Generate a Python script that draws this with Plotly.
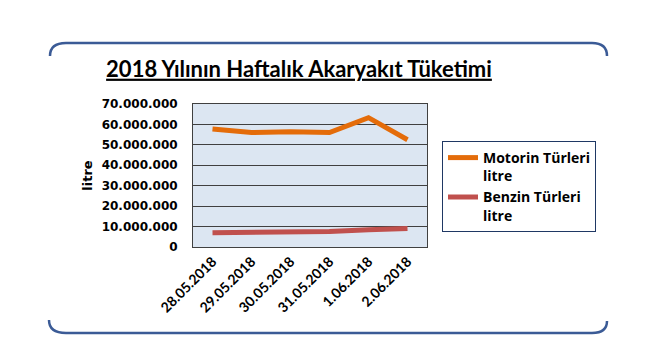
import plotly.graph_objects as go

dates = ["28.05.2018", "29.05.2018", "30.05.2018", "31.05.2018", "1.06.2018", "2.06.2018"]
motorin = [57800000, 56000000, 56400000, 56000000, 63300000, 52500000]
benzin = [7000000, 7000000, 7100000, 7600000, 8500000, 9000000]
series_names = ["Motorin Türleri<br>litre", "Benzin Türleri<br>litre"]
title_text = "2018 Yılının Haftalık Akaryakıt Tüketimi"

W, H = 650, 360
OFF = 8  # page offset of the figure in the browser
# plot area in reference pixel coordinates
RL, RR, RT, RB = 193, 427, 104, 247
L, R, T, B = RL - OFF, RR - OFF, RT - OFF, RB - OFF

def px(x):  # reference px -> paper
    return (x - RL) / (RR - RL)

def py(y):
    return (RB - y) / (RB - RT)

fig = go.Figure()
fig.add_trace(go.Scatter(x=dates, y=motorin, mode="lines", name=series_names[0],
                         line=dict(color="#E46C0A", width=5)))
fig.add_trace(go.Scatter(x=dates, y=benzin, mode="lines", name=series_names[1],
                         line=dict(color="#C0504D", width=5)))

frame_color = "#3B5B96"
top_path = (f"M {px(50)},{py(56)} Q {px(50)},{py(43)} {px(66)},{py(43)} "
            f"L {px(592)},{py(43)} Q {px(607)},{py(43)} {px(607)},{py(56)}")
bot_path = (f"M {px(49)},{py(320)} Q {px(49)},{py(333)} {px(66)},{py(333)} "
            f"L {px(592)},{py(333)} Q {px(607)},{py(333)} {px(607)},{py(321)}")

fig.update_layout(
    width=W, height=H,
    margin=dict(l=L, r=W - R, t=T, b=H - B, autoexpand=False),
    paper_bgcolor="white",
    plot_bgcolor="#DCE6F2",
    separators=",.",
    showlegend=True,
    title=dict(text=f"<u><b>{title_text}</b></u>", x=px(299), xref="paper", xanchor="center",
               y=1 - (69 - OFF) / H, yanchor="middle",
               font=dict(family="Lato", size=22, color="black")),
    xaxis=dict(type="category", showgrid=False, showline=True, linecolor="#404040",
               linewidth=1, mirror=True, tickangle=-45, ticks="",
               tickfont=dict(family="Lato", size=14, color="black", weight="bold"),
               range=[-0.5, 5.5]),
    yaxis=dict(range=[0, 70000000], dtick=10000000, tickformat=",d",
               showgrid=True, gridcolor="#404040", gridwidth=1,
               showline=True, linecolor="#404040", linewidth=1, mirror=True,
               zeroline=False, ticks="", ticklabelstandoff=12,
               tickfont=dict(family="DejaVu Sans", size=12, color="black", weight="bold"),
               title=dict(text="<b>litre</b>", standoff=6,
                          font=dict(family="DejaVu Sans", size=13, color="black"))),
    legend=dict(x=px(442), y=py(141), xanchor="left", yanchor="top",
                bordercolor="#1F3864", borderwidth=1, bgcolor="white",
                valign="top", itemwidth=30,
                font=dict(family="Open Sans", size=14, color="black", weight="bold")),
    shapes=[
        dict(type="path", xref="paper", yref="paper", path=top_path,
             line=dict(color=frame_color, width=2.5)),
        dict(type="path", xref="paper", yref="paper", path=bot_path,
             line=dict(color=frame_color, width=2.5)),
    ],
)

fig.write_html("out.html")
